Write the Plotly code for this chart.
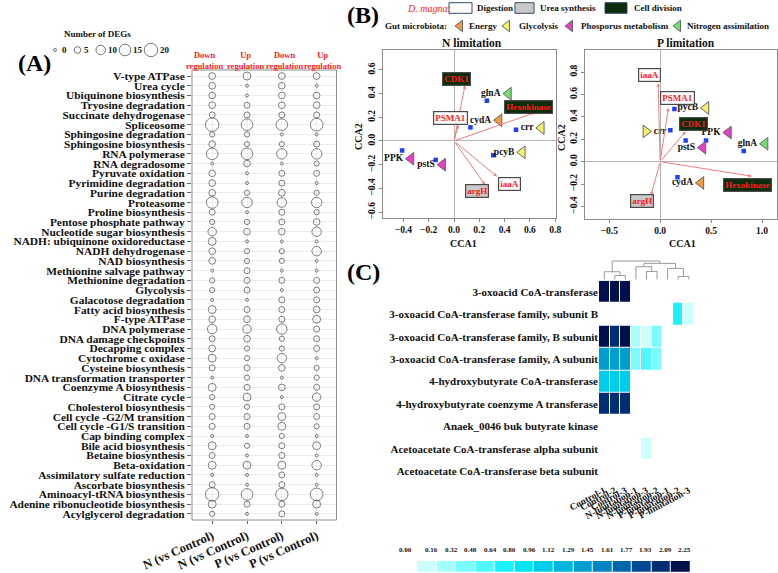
import math
import plotly.graph_objects as go

W, H = 778, 573
FONT = "Liberation Serif"

# ---------------- Panel A data ----------------
pathways = [
    "V-type ATPase", "Urea cycle", "Ubiquinone biosynthesis", "Tryosine degradation",
    "Succinate dehydrogenase", "Spliceosome", "Sphingosine degradation", "Sphingosine biosynthesis",
    "RNA polymerase", "RNA degradosome", "Pyruvate oxidation", "Pyrimidine degradation",
    "Purine degradation", "Proteasome", "Proline biosynthesis", "Pentose phosphate pathway",
    "Nucleotide sugar biosynthesis", "NADH: ubiquinone oxidoreductase", "NADH dehydrogenase",
    "NAD biosynthesis", "Methionine salvage pathway", "Methionine degradation", "Glycolysis",
    "Galacotose degradation", "Fatty acid biosynthesis", "F-type ATPase", "DNA polymerase",
    "DNA damage checkpoints", "Decapping complex", "Cytochrome c oxidase", "Cysteine biosynthesis",
    "DNA transformation transporter", "Coenzyme A biosynthesis", "Citrate cycle",
    "Cholesterol biosynthesis", "Cell cycle -G2/M transition", "Cell cycle -G1/S transition",
    "Cap binding complex", "Bile acid biosynthesis", "Betaine biosynthesis", "Beta-oxidation",
    "Assimilatory sulfate reduction", "Ascorbate biosynthesis", "Aminoacyl-tRNA biosynthesis",
    "Adenine ribonucleotide biosynthesis", "Acylglycerol degradation",
]
comparisons = ["N (vs Control)", "N (vs Control)", "P (vs Control)", "P (vs Control)"]
regulation = ["Down<br>regulation", "Up<br>regulation", "Down<br>regulation", "Up<br>regulation"]
n_down = [5, 5, 5, 5, 4, 20, 3, 5, 15, 0, 5, 5, 5, 15, 4, 3, 8, 7, 5, 5, 0, 3, 3, 0,
          7, 5, 10, 4, 5, 7, 4, 0, 7, 3, 3, 4, 4, 0, 7, 4, 7, 0, 4, 20, 7, 3]
n_up = [7, 0, 0, 4, 4, 15, 3, 3, 15, 5, 0, 0, 3, 12, 0, 3, 5, 0, 3, 3, 4, 4, 4, 0,
        4, 5, 8, 5, 3, 3, 4, 3, 4, 7, 3, 4, 4, 0, 3, 0, 7, 0, 0, 15, 4, 0]
p_down = [5, 5, 5, 5, 4, 15, 0, 3, 12, 0, 4, 4, 5, 10, 4, 4, 5, 0, 3, 3, 0, 4, 0, 4,
          4, 4, 12, 3, 3, 10, 5, 0, 5, 0, 4, 7, 7, 3, 4, 4, 7, 4, 4, 17, 4, 4]
p_up = [5, 0, 5, 5, 4, 18, 0, 4, 12, 3, 4, 0, 3, 12, 3, 5, 10, 0, 10, 0, 0, 4, 4, 4,
        5, 7, 4, 4, 4, 0, 3, 3, 4, 8, 4, 4, 3, 0, 7, 0, 10, 0, 0, 18, 7, 0]
legend_degs = [0, 5, 10, 15, 20]

# ---------------- Panel B data ----------------
d_magna_functions = ["Digestion", "Urea synthesis", "Cell division"]
microbe_functions = ["Energy", "Glycolysis", "Phosporus metabolism", "Nitrogen assimilation"]

# N limitation
n_sites_x = [-0.41, -0.145, 0.13, 0.26, 0.49, 0.31]
n_sites_y = [-0.08, -0.16, 0.115, 0.34, 0.095, -0.12]
n_mic_names = ["glnA", "cydA", "crr", "pcyB", "PPK", "pstS"]
n_mic_func = ["Nitrogen assimilation", "Energy", "Glycolysis", "Glycolysis",
              "Phosporus metabolism", "Phosporus metabolism"]
n_mic_x = [0.43, 0.356, 0.69, 0.54, -0.34, -0.09]
n_mic_y = [0.40, 0.175, 0.11, -0.095, -0.15, -0.20]
n_gene_names = ["CDK1", "PSMA1", "Hexokinase", "iaaA", "argH"]
n_gene_func = ["Cell division", "Digestion", "Cell division", "Digestion", "Urea synthesis"]
n_gene_x = [0.087, 0.034, 0.64, 0.34, 0.245]
n_gene_y = [0.47, 0.135, 0.24, -0.30, -0.37]
n_label_x = [0.02, -0.03, 0.59, 0.44, 0.18]
n_label_y = [0.52, 0.19, 0.29, -0.36, -0.42]

# P limitation
p_sites_x = [0.14, 0.10, 0.25, 0.45, 0.82, 0.17]
p_sites_y = [0.47, 0.28, 0.19, 0.19, 0.095, -0.14]
p_mic_names = ["pycB", "crr", "PPK", "pstS", "glnA", "cydA"]
p_mic_func = ["Glycolysis", "Glycolysis", "Phosporus metabolism", "Phosporus metabolism",
              "Nitrogen assimilation", "Energy"]
p_mic_x = [0.45, -0.14, 0.67, 0.42, 1.03, 0.40]
p_mic_y = [0.48, 0.27, 0.26, 0.125, 0.16, -0.19]
p_gene_names = ["iaaA", "PSMA1", "CDK1", "Hexokinase", "argH"]
p_gene_func = ["Digestion", "Digestion", "Cell division", "Cell division", "Urea synthesis"]
p_gene_x = [-0.02, 0.08, 0.25, 0.90, -0.09]
p_gene_y = [0.70, 0.48, 0.27, -0.13, -0.30]
p_label_x = [-0.10, 0.17, 0.33, 0.86, -0.18]
p_label_y = [0.77, 0.57, 0.34, -0.21, -0.35]

# ---------------- Panel C data ----------------
genes = [
    "3-oxoacid CoA-transferase",
    "3-oxoacid CoA-transferase family, subunit B",
    "3-oxoacid CoA-transferase family, B subunit",
    "3-oxoacid CoA-transferase family, A subunit",
    "4-hydroxybutyrate CoA-transferase",
    "4-hydroxybutyrate coenzyme A transferase",
    "Anaek_0046 buk butyrate kinase",
    "Acetoacetate CoA-transferase alpha subunit",
    "Acetoacetate CoA-transferase beta subunit",
]
samples = ["Control-1", "Control-2", "Control-3", "N-limitation-1", "N-limitation-3",
           "N-limitation-2", "P-limitation-1", "P-limitation-2", "P-limitation-3"]
N_ = None
expr = [
    [2.20, 2.25, 2.20, N_, N_, N_, N_, N_, N_],
    [N_, N_, N_, N_, N_, N_, N_, 0.70, 0.10],
    [2.15, 1.95, 2.10, 0.30, 0.10, 0.45, N_, N_, N_],
    [1.40, 1.35, 1.40, 0.45, 0.50, 0.35, N_, N_, N_],
    [1.00, 1.05, 1.00, N_, N_, N_, N_, N_, N_],
    [2.00, 2.05, 2.00, N_, N_, N_, N_, N_, N_],
    [N_, N_, N_, N_, N_, N_, N_, N_, N_],
    [N_, N_, N_, N_, 0.10, N_, N_, N_, N_],
    [N_, N_, N_, N_, N_, N_, N_, N_, N_],
]
# dendrogram merges: (left child, right child, height); leaves 0..8, new clusters 9..
dendro_merges = [(1, 2, 1.2), (0, 9, 2.3), (4, 5, 2.4), (3, 11, 3.8),
                 (7, 8, 0.9), (6, 13, 3.3), (12, 14, 4.8), (10, 15, 5.5)]
cbar_labels = ["0.00", "0.16", "0.32", "0.48", "0.64", "0.80", "0.96", "1.12",
               "1.29", "1.45", "1.61", "1.77", "1.93", "2.09", "2.25"]
z_max = 2.25

# ---------------- styles ----------------
BIN_COLORS = ["#ccffff", "#a3ffff", "#7afcff", "#4ff8ff", "#1af2ff", "#00e4f4", "#00cdeb",
              "#00b5de", "#009dd0", "#0084c2", "#0066ac", "#004a94", "#002d73", "#00104d"]
MIC_COLORS = {"Energy": "#f39a3d", "Glycolysis": "#f6ef6a",
              "Phosporus metabolism": "#e83fc6", "Nitrogen assimilation": "#6fe06f"}
BOX_FILL = {"Digestion": "#ffffff", "Urea synthesis": "#c9c9c9", "Cell division": "#0b2d0b"}
P_RIGHT_FACING = {"crr"}


def dom_x(a, b):
    return [a / W, b / W]


def dom_y(top, bottom):
    return [1 - bottom / H, 1 - top / H]


def deg_size(v):
    return max(3.0, 3.0 * math.sqrt(v))


def bfont(size, color="#111", weight="bold", style="normal"):
    return dict(family=FONT, size=size, color=color, weight=weight, style=style)


fig = go.Figure()

# ---------------- Panel A traces ----------------
xs, ys, ss = [], [], []
for j, vals in enumerate([n_down, n_up, p_down, p_up]):
    for i, v in enumerate(vals):
        xs.append(j)
        ys.append(i)
        ss.append(deg_size(v))
fig.add_trace(go.Scatter(x=xs, y=ys, mode="markers", xaxis="x", yaxis="y",
                         marker=dict(symbol="circle-open", size=ss, color="#4a4a4a",
                                     line=dict(width=1)),
                         showlegend=False, hoverinfo="skip"))

# size legend (overlay in pixel coords)
leg_x = [55, 77.5, 100.7, 125, 151]
fig.add_trace(go.Scatter(x=leg_x, y=[50] * 5, mode="markers", xaxis="x7", yaxis="y7",
                         marker=dict(symbol="circle-open", size=[deg_size(v) for v in legend_degs],
                                     color="#404040", line=dict(width=1)),
                         showlegend=False, hoverinfo="skip"))

# ---------------- Panel B traces ----------------
def add_cca(xa, ya, sx, sy, mnames, mfunc, mx, my, right_facing):
    fig.add_trace(go.Scatter(x=sx, y=sy, mode="markers", xaxis=xa, yaxis=ya,
                             marker=dict(symbol="square", size=4.5, color="#1f3dff"),
                             showlegend=False, hoverinfo="skip"))
    for side in ("left", "right"):
        idx = [i for i, n in enumerate(mnames) if (n in right_facing) == (side == "right")]
        if not idx:
            continue
        fig.add_trace(go.Scatter(
            x=[mx[i] for i in idx], y=[my[i] for i in idx],
            text=["<b>%s</b>" % mnames[i] for i in idx],
            mode="markers+text", xaxis=xa, yaxis=ya,
            textposition="middle left" if side == "left" else "middle right",
            textfont=dict(family=FONT, size=9.5, color="#111"),
            marker=dict(symbol="triangle-left" if side == "left" else "triangle-right",
                        size=11, color=[MIC_COLORS[mfunc[i]] for i in idx],
                        line=dict(color="#666", width=1)),
            showlegend=False, hoverinfo="skip", cliponaxis=False))


add_cca("x2", "y2", n_sites_x, n_sites_y, n_mic_names, n_mic_func, n_mic_x, n_mic_y, set())
add_cca("x3", "y3", p_sites_x, p_sites_y, p_mic_names, p_mic_func, p_mic_x, p_mic_y, P_RIGHT_FACING)

# legend triangles
fig.add_trace(go.Scatter(x=[460, 507, 570, 678], y=[26] * 4, mode="markers", xaxis="x7", yaxis="y7",
                         marker=dict(symbol="triangle-left", size=10,
                                     color=[MIC_COLORS[f] for f in microbe_functions],
                                     line=dict(color="#666", width=1)),
                         showlegend=False, hoverinfo="skip"))

# ---------------- Panel C traces ----------------
colorscale = []
nb = len(BIN_COLORS)
for i, c in enumerate(BIN_COLORS):
    colorscale.append([i / nb, c])
    colorscale.append([(i + 1) / nb, c])

fig.add_trace(go.Heatmap(z=expr, x=list(range(len(samples))), y=list(range(len(genes))),
                         xaxis="x4", yaxis="y4", colorscale=colorscale, zmin=0, zmax=z_max,
                         showscale=False, xgap=1, ygap=1, hoverongaps=False, hoverinfo="skip"))

# dendrogram
pos = {i: float(i) for i in range(len(samples))}
hgt = {i: 0.0 for i in range(len(samples))}
dx, dy = [], []
for k, (a, b, h) in enumerate(dendro_merges):
    nid = len(samples) + k
    dx += [pos[a], pos[a], pos[b], pos[b], None]
    dy += [hgt[a], h, h, hgt[b], None]
    pos[nid] = (pos[a] + pos[b]) / 2
    hgt[nid] = h
fig.add_trace(go.Scatter(x=dx, y=dy, mode="lines", xaxis="x5", yaxis="y5",
                         line=dict(color="#9a9a9a", width=1), showlegend=False, hoverinfo="skip"))

# colour strip
bin_w = z_max / nb
fig.add_trace(go.Heatmap(z=[[bin_w * (i + 0.5) for i in range(nb)]], x=list(range(nb)), y=[0],
                         xaxis="x6", yaxis="y6", colorscale=colorscale, zmin=0, zmax=z_max,
                         showscale=False, xgap=1, hoverinfo="skip"))

# ---------------- axes ----------------
frame = dict(showline=True, mirror=True, linecolor="#8c8c8c", linewidth=1, automargin=False)
cca_common = dict(frame, ticks="outside", ticklen=3, tickcolor="#888", showgrid=False,
                  zeroline=True, zerolinecolor="#b5b5b5", zerolinewidth=1,
                  tickfont=bfont(9.5), tickformat=".1f")
hidden = dict(visible=False, showgrid=False, zeroline=False, fixedrange=True, automargin=False)
A_X = dom_x(192, 336.5)
A_Y = dom_y(70, 520)

fig.update_layout(
    width=W, height=H, margin=dict(l=0, r=0, t=0, b=0, pad=0, autoexpand=False),
    paper_bgcolor="white", plot_bgcolor="rgba(0,0,0,0)", showlegend=False,
    xaxis=dict(domain=A_X, range=[-0.58, 3.57], anchor="y", automargin=False, showline=False,
               tickvals=[0, 1, 2, 3], ticktext=comparisons, tickangle=-24, tickfont=bfont(12.5),
               showgrid=True, gridcolor="#ececec", zeroline=False, ticks="outside", ticklen=3,
               tickcolor="#666"),
    yaxis=dict(domain=A_Y, range=[len(pathways) - 1 + 0.63, -0.62], anchor="x", automargin=False,
               showline=False,
               tickvals=list(range(len(pathways))), ticktext=pathways, tickfont=bfont(11.4),
               showgrid=True, gridcolor="#ececec", zeroline=False, ticks="outside", ticklen=4,
               tickcolor="#666"),
    xaxis2=dict(cca_common, domain=dom_x(383, 556), range=[-0.561, 0.806], anchor="y2", dtick=0.2),
    yaxis2=dict(cca_common, domain=dom_y(50, 218), range=[-0.65, 0.768], anchor="x2", dtick=0.2,
                tickangle=-90),
    xaxis3=dict(cca_common, domain=dom_x(585, 776.5), range=[-0.738, 1.142], anchor="y3", dtick=0.5),
    yaxis3=dict(cca_common, domain=dom_y(50, 219), range=[-0.512, 0.997], anchor="x3", dtick=0.2,
                tickangle=-90),
    xaxis4=dict(domain=dom_x(599, 694), range=[-0.5, 8.5], anchor="y4", automargin=False,
                tickvals=list(range(len(samples))), ticktext=samples, tickangle=-28,
                tickfont=bfont(9.5), showgrid=False, zeroline=False, showline=False, ticks=""),
    yaxis4=dict(domain=dom_y(280.7, 482.3), range=[8.5, -0.5], anchor="x4", automargin=False,
                tickvals=list(range(len(genes))), ticktext=genes, tickfont=bfont(11),
                showgrid=False, zeroline=False, showline=False, ticks=""),
    xaxis5=dict(hidden, domain=dom_x(599, 694), range=[-0.5, 8.5], anchor="y5"),
    yaxis5=dict(hidden, domain=dom_y(259, 281), range=[-0.45, 6.1], anchor="x5"),
    xaxis6=dict(hidden, domain=dom_x(416.7, 690.7), range=[-0.5, nb - 0.5], anchor="y6"),
    yaxis6=dict(hidden, domain=dom_y(561, 571.7), range=[-0.5, 0.5], anchor="x6"),
    xaxis7=dict(hidden, domain=[0, 1], range=[0, W], anchor="y7"),
    yaxis7=dict(hidden, domain=[0, 1], range=[H, 0], anchor="x7"),
)

# ---------------- annotations ----------------
anns = []


def ann(x, y, text, font, xanchor="center", yanchor="middle", **kw):
    anns.append(dict(x=x, y=y, xref="x7", yref="y7", text=text, showarrow=False,
                     xanchor=xanchor, yanchor=yanchor, font=font, **kw))


ann(34, 63, "(A)", bfont(24, "#000"))
ann(363, 15, "(B)", bfont(24, "#000"))
ann(363, 272, "(C)", bfont(24, "#000"))

ann(97, 34, "Number of DEGs", bfont(9))
for xv, v in zip([60, 81.5, 106, 130.5, 157.5], legend_degs):
    ann(xv, 50, str(v), bfont(9), xanchor="left")
for xv, t in zip([204, 245, 284, 322.5], regulation):
    ann(xv, 60, t, bfont(8.5, "#ff2020"))

# B legend
ann(405, 8, "D. magna:", bfont(10, "#ff2020", weight="normal", style="italic"), xanchor="left")
for xv, t in zip([475, 538, 632], d_magna_functions):
    ann(xv, 8, t, bfont(9), xanchor="left")
ann(383, 26, "Gut microbiota:", bfont(9), xanchor="left")
for xv, t in zip([467, 517, 579, 685], microbe_functions):
    ann(xv, 26, t, bfont(9), xanchor="left")
ann(471.5, 43, "N limitation", bfont(11.5))
ann(686, 43, "P limitation", bfont(11.5))
ann(463, 243, "CCA1", bfont(10))
ann(682, 243, "CCA1", bfont(10))
ann(358, 137, "CCA2", bfont(10), textangle=-90)
ann(561, 138, "CCA2", bfont(10), textangle=-90)

# colour strip labels
for k, t in enumerate(cbar_labels):
    xv = 405 if k == 0 else 431.7 + (k - 1) * 19.48
    ann(xv, 550, t, bfont(7))


def add_gene_arrows(xa, ya, names, funcs, gx, gy, lx, ly):
    for n, f, x, y, tx, ty in zip(names, funcs, gx, gy, lx, ly):
        anns.append(dict(x=x, y=y, ax=0, ay=0, xref=xa, yref=ya, axref=xa, ayref=ya,
                         text="", showarrow=True, arrowhead=2, arrowsize=0.7, arrowwidth=1,
                         arrowcolor="#f47c7c"))
        anns.append(dict(x=tx, y=ty, xref=xa, yref=ya, text=n, showarrow=False,
                         font=bfont(9, "#ff1a1a"), bgcolor=BOX_FILL[f], bordercolor="#4a4a4a",
                         borderwidth=1.2, borderpad=1))


add_gene_arrows("x2", "y2", n_gene_names, n_gene_func, n_gene_x, n_gene_y, n_label_x, n_label_y)
add_gene_arrows("x3", "y3", p_gene_names, p_gene_func, p_gene_x, p_gene_y, p_label_x, p_label_y)

fig.update_layout(annotations=anns)

# panel A frame + D. magna legend boxes
shapes = [dict(type="rect", xref="paper", yref="paper", x0=A_X[0], x1=A_X[1], y0=A_Y[0], y1=A_Y[1],
               line=dict(color="#8c8c8c", width=1), fillcolor="rgba(0,0,0,0)", layer="above")]
for (x0, x1), f in zip([(449, 472), (515, 534), (605, 627)], d_magna_functions):
    shapes.append(dict(type="rect", xref="x7", yref="y7", x0=x0, x1=x1, y0=2.7, y1=13.3,
                       fillcolor=BOX_FILL[f], line=dict(color="#3a4a6a", width=1)))
fig.update_layout(shapes=shapes)

fig.write_html("out.html", config={"displayModeBar": False},
               post_script="document.body.style.margin='0';document.body.style.overflow='hidden';")
